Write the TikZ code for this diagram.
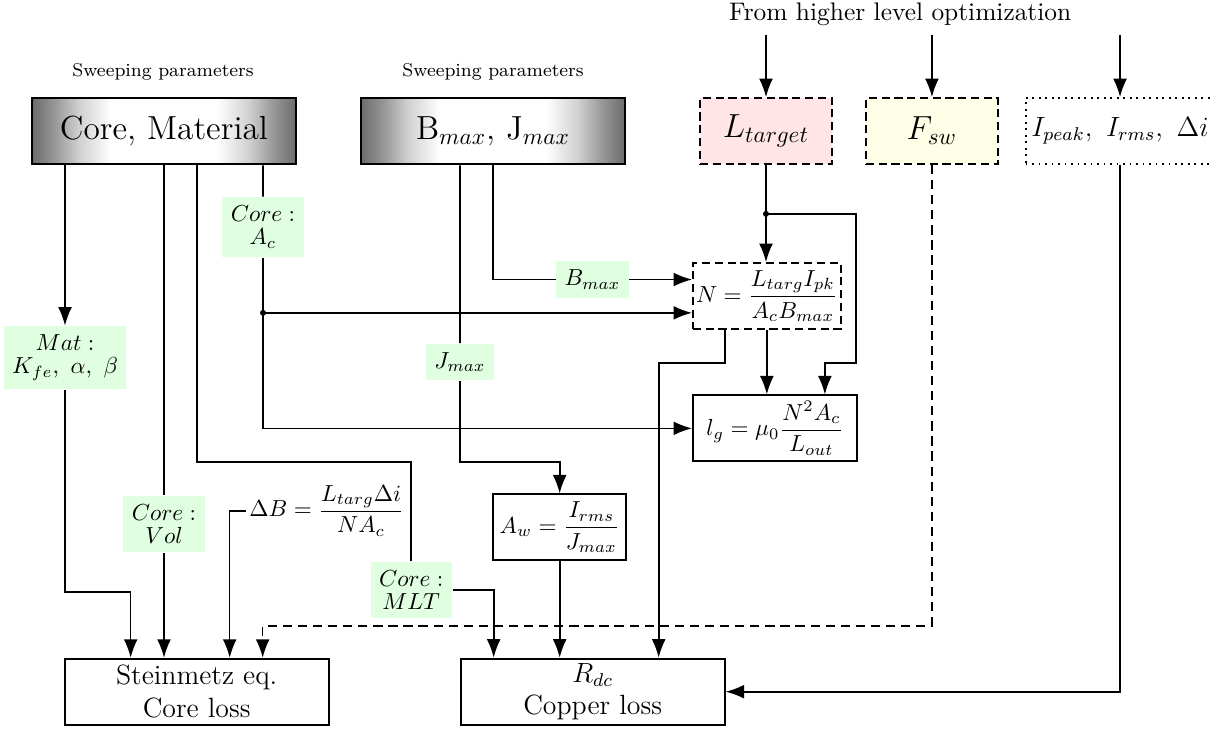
\documentclass[tikz,border=0pt,11pt]{standalone}
\usepackage{amsmath}
\usepackage{xcolor}
\usepackage{tikz}
\usetikzlibrary{arrows.meta,shapes,calc,positioning}
\pgfdeclarehorizontalshading{sweepshade}{100bp}{color(0bp)=(black!58); color(25bp)=(black!58); color(29bp)=(black!42); color(34bp)=(black!18); color(40bp)=(white); color(60bp)=(white); color(66bp)=(black!18); color(71bp)=(black!42); color(75bp)=(black!58); color(100bp)=(black!58)}
\tikzstyle{sweepbox}=[rectangle, draw, shading=sweepshade,% grey at the sides, white in the middle
line width=1.2pt, minimum width=4cm, minimum height=1cm, font=\Large]
\tikzstyle{extbox}=[rectangle, draw, thick, dash pattern=on 3.5pt off 2pt, minimum width=2cm, minimum height=1cm, font=\Large]
\tikzstyle{blk}=[rectangle, draw, thick, align=center, minimum width=4cm, minimum height=1cm, inner sep=2pt, font=\large]
\tikzstyle{eqn}=[rectangle, draw, thick, minimum height=1cm, inner sep=0.5pt, font=\small]
\tikzstyle{prm}=[fill=green!12, align=center, font=\fontsize{10}{10}\selectfont]
\tikzstyle{fline}=[dash pattern=on 4pt off 2.5pt]
\tikzstyle{dgraph}=[->, >={Latex[length=2.8mm,width=2.1mm]}, line width=0.7pt]
\begin{document}
\begin{tikzpicture}[dgraph]
\useasboundingbox (0,0) rectangle (18.394,-11.076);
\node (top) at (13.64,-0.21) {From higher level optimization};
\node[font=\scriptsize] (swA) at (2.47,-1.09) {Sweeping parameters};
\node[font=\scriptsize] (swB) at (7.47,-1.09) {Sweeping parameters};
\node[sweepbox] (core) at (2.485,-1.985) {Core, Material};
\node[sweepbox] (bmax) at (7.47,-1.985) {B$_{max}$, J$_{max}$};
\node[extbox, fill=red!10] (ltgt) at (11.606,-1.985) {$L_{target}$};
\node[extbox, fill=yellow!10] (fsw) at (14.12,-1.985) {$F_{sw}$};
\node[extbox, dotted, font=\large, inner sep=2.5pt] (ipk) at (16.97,-1.985) {$I_{peak},\ I_{rms},\ \Delta i$};

\node[prm] (mat) at (0.985,-5.42) {$Mat:$\\$K_{fe},\ \alpha,\ \beta$};
\node[prm] (acl) at (3.985,-3.44) {$Core:$\\$A_c$};
\node[prm] (jmx) at (6.97,-5.485) {$J_{max}$};
\node[prm] (vol) at (2.485,-7.94) {$Core:$\\$Vol$};
\node[prm] (mlt) at (6.23,-8.94) {$Core:$\\$MLT$};

\node[eqn, dash pattern=on 3.5pt off 2pt, minimum width=2.24cm, anchor=west] (nbox) at (10.485,-4.485) {$N=\dfrac{L_{targ}I_{pk}}{A_cB_{max}}$};
\node[eqn, minimum width=2.485cm, anchor=west] (lg) at (10.485,-6.49) {$l_g=\mu_0\dfrac{N^2A_c}{L_{out}}$};
\node[eqn, minimum width=2.015cm] (aw) at (8.48,-7.99) {$A_w=\dfrac{I_{rms}}{J_{max}}$};
\node[inner sep=1pt, anchor=west, font=\small] (db) at (3.73,-7.74) {$\Delta B=\dfrac{L_{targ}\Delta i}{NA_c}$};

\node[blk] (stein) at (2.98,-10.48) {Steinmetz eq.\\Core loss};
\node[blk] (rdc) at (8.98,-10.48) {$R_{dc}$\\Copper loss};

\coordinate (ldot) at (11.606,-3.24);
\coordinate (adot) at (3.985,-4.74);
\coordinate (wlvl) at (0,-7);

% from the higher level
\draw (top.south -| ltgt) -- (ltgt);
\draw (top.south -| fsw) -- (fsw);
\draw (top.south -| ipk) -- (ipk);

% core and material
\draw ([xshift=-1.5cm]core.south) -- (mat);
\draw (mat) |- ([xshift=-1cm,yshift=1cm]stein.north) -- ([xshift=-1cm]stein.north);
\draw[-] (core.south -| vol) -- (vol);
\draw (vol) -- (vol |- stein.north);
\draw[-] ([xshift=0.5cm]core.south) |- (wlvl -| mlt) -- (mlt);
\draw (mlt) -| ([xshift=-1.5cm]rdc.north);
\draw[-] ([xshift=1.5cm]core.south) -- (acl);
\draw (acl) |- (lg);
\fill (adot) circle (1.3pt);
\draw (adot) -- (adot -| nbox.west);

% flux and current density
\draw (bmax) |- node[prm, pos=0.75] (bml) {$B_{max}$} ([yshift=0.25cm]nbox.west);
\draw[-] ([xshift=-0.5cm]bmax.south) -- (jmx);
\draw (jmx) |- (wlvl -| aw) -- (aw);

% inductance target
\draw (ltgt) -- (ltgt |- nbox.north);
\fill (ldot) circle (1.3pt);
\draw (ldot) -| ++(1.364,-2.26) -| ([xshift=-0.5cm]lg.north east);
\draw (nbox.south) -- (nbox.south |- lg.north);
\draw ([xshift=0.5cm]nbox.south west) -- ++(0,-0.5) -| ([xshift=1cm]rdc.north);
\draw[fline] (fsw) |- ([xshift=1cm,yshift=0.485cm]stein.north) -- ([xshift=1cm]stein.north);
\draw (ipk) |- (rdc);
\draw (db) -| ([xshift=0.5cm]stein.north);
\draw (aw) -- (aw |- rdc.north);
\end{tikzpicture}
\end{document}
